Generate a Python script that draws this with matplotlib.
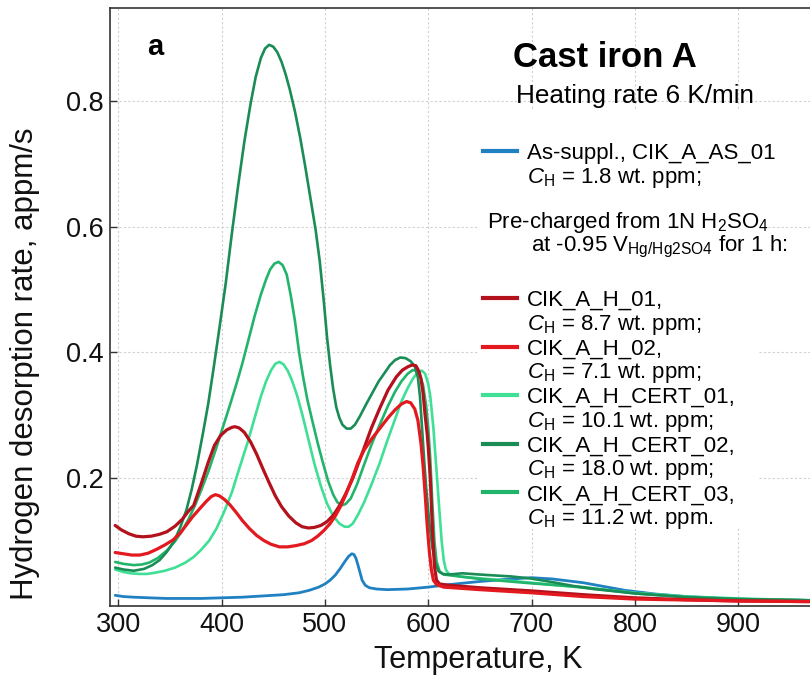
import matplotlib
matplotlib.use("Agg")
import matplotlib.pyplot as plt
from matplotlib.patches import Rectangle
from matplotlib.lines import Line2D

plt.rcParams['font.family'] = ['Liberation Sans', 'DejaVu Sans']
plt.rcParams['mathtext.fontset'] = 'custom'
plt.rcParams['mathtext.rm'] = 'Liberation Sans'
plt.rcParams['mathtext.it'] = 'Liberation Sans:italic'
plt.rcParams['mathtext.bf'] = 'Liberation Sans:bold'

# ---------------- data ----------------
T_as = [297, 305, 315, 330, 347, 365, 380, 400, 420, 440, 460, 475, 485, 494, 500, 505, 510,
        515, 519, 523, 526, 528, 530, 532, 534, 536, 539, 543, 550, 560, 580, 600, 620, 650,
        680, 700, 720, 750, 770, 790, 820, 850, 900, 969]
v_as = [0.014, 0.012, 0.011, 0.010, 0.009, 0.009, 0.009, 0.010, 0.011, 0.013, 0.015, 0.018,
        0.022, 0.027, 0.032, 0.038, 0.046, 0.057, 0.067, 0.076, 0.080, 0.079, 0.073, 0.062,
        0.050, 0.038, 0.030, 0.026, 0.024, 0.023, 0.024, 0.027, 0.031, 0.036, 0.040, 0.042,
        0.040, 0.034, 0.028, 0.022, 0.016, 0.012, 0.008, 0.006]

T_h01 = [297, 303, 310, 317, 324, 332, 340, 347, 355, 362, 368, 373, 380, 387, 393, 399, 405,
         410, 413, 417, 422, 428, 434, 440, 446, 452, 458, 465, 472, 478, 484, 490, 496, 502,
         508, 514, 520, 527, 535, 545, 553, 561, 569, 575, 580, 584, 588, 591, 593, 595, 597,
         599, 600, 602, 604, 606, 608, 611, 620, 650, 700, 750, 800, 850, 900, 969]
v_h01 = [0.125, 0.118, 0.112, 0.108, 0.107, 0.108, 0.111, 0.115, 0.124, 0.135, 0.148, 0.157,
         0.190, 0.225, 0.252, 0.268, 0.277, 0.281, 0.282, 0.280, 0.273, 0.258, 0.238, 0.215,
         0.193, 0.172, 0.155, 0.140, 0.129, 0.123, 0.121, 0.122, 0.125, 0.131, 0.141, 0.156,
         0.175, 0.200, 0.235, 0.280, 0.311, 0.340, 0.361, 0.372, 0.377, 0.380, 0.379, 0.370,
         0.358, 0.335, 0.300, 0.270, 0.250, 0.200, 0.120, 0.060, 0.038, 0.032, 0.030, 0.026,
         0.021, 0.015, 0.010, 0.007, 0.005, 0.004]

T_h02 = [297, 305, 313, 321, 329, 337, 345, 353, 360, 366, 372, 379, 385, 390, 394, 398, 403,
         408, 414, 420, 427, 434, 441, 448, 456, 464, 472, 480, 487, 493, 499, 505, 510, 515,
         520, 526, 532, 538, 545, 553, 561, 568, 574, 579, 583, 587, 590, 593, 595, 597, 599,
         601, 603, 605, 608, 615, 650, 700, 750, 800, 900, 969]
v_h02 = [0.082, 0.080, 0.078, 0.078, 0.081, 0.087, 0.094, 0.102, 0.113, 0.126, 0.139, 0.152,
         0.163, 0.171, 0.174, 0.172, 0.166, 0.158, 0.146, 0.133, 0.120, 0.109, 0.101, 0.095,
         0.091, 0.091, 0.093, 0.096, 0.101, 0.108, 0.117, 0.128, 0.140, 0.155, 0.173, 0.198,
         0.225, 0.245, 0.262, 0.279, 0.296, 0.309, 0.318, 0.322, 0.320, 0.310, 0.292, 0.255,
         0.220, 0.175, 0.125, 0.085, 0.055, 0.038, 0.031, 0.027, 0.023, 0.018, 0.012, 0.008,
         0.005, 0.004]

T_c01 = [297, 305, 312, 320, 328, 336, 345, 355, 365, 373, 380, 388, 395, 402, 410, 417, 425,
         432, 438, 443, 448, 452, 456, 460, 464, 468, 473, 478, 484, 490, 496, 502, 508, 514,
         519, 523, 527, 532, 538, 545, 553, 560, 567, 574, 580, 585, 590, 594, 597, 600, 602,
         605, 607, 609, 611, 613, 615, 617, 620, 630, 650, 680, 700, 750, 800, 850, 900, 969]
v_c01 = [0.055, 0.051, 0.049, 0.048, 0.048, 0.050, 0.053, 0.058, 0.066, 0.075, 0.086, 0.101,
         0.120, 0.145, 0.178, 0.215, 0.256, 0.296, 0.330, 0.354, 0.372, 0.382, 0.385, 0.381,
         0.371, 0.356, 0.332, 0.302, 0.262, 0.222, 0.188, 0.160, 0.140, 0.128, 0.123, 0.123,
         0.128, 0.142, 0.162, 0.190, 0.224, 0.258, 0.290, 0.322, 0.343, 0.358, 0.369, 0.371,
         0.366, 0.350, 0.330, 0.280, 0.235, 0.190, 0.144, 0.100, 0.070, 0.055, 0.048, 0.044,
         0.041, 0.037, 0.034, 0.026, 0.018, 0.012, 0.009, 0.006]

T_c02 = [297, 305, 315, 325, 333, 340, 347, 354, 360, 366, 371, 376, 382, 387, 392, 398, 404,
         410, 416, 422, 428, 433, 438, 442, 446, 450, 454, 458, 462, 466, 471, 476, 481, 486,
         491, 495, 499, 502, 505, 508, 511, 514, 517, 521, 525, 529, 534, 540, 546, 552, 558,
         563, 568, 573, 578, 583, 587, 590, 592, 594, 596, 598, 601, 604, 607, 610, 614, 620,
         633, 650, 680, 698, 720, 740, 760, 800, 850, 900, 969]
v_c02 = [0.058, 0.055, 0.053, 0.056, 0.062, 0.070, 0.083, 0.100, 0.122, 0.150, 0.182, 0.220,
         0.272, 0.318, 0.372, 0.440, 0.510, 0.590, 0.665, 0.735, 0.795, 0.838, 0.868, 0.883,
         0.889, 0.886, 0.877, 0.862, 0.842, 0.818, 0.783, 0.742, 0.695, 0.645, 0.595, 0.545,
         0.480, 0.425, 0.380, 0.342, 0.313, 0.296, 0.285, 0.279, 0.279, 0.285, 0.299, 0.318,
         0.336, 0.354, 0.368, 0.380, 0.388, 0.392, 0.391, 0.386, 0.378, 0.360, 0.330, 0.280,
         0.230, 0.185, 0.130, 0.090, 0.065, 0.052, 0.048, 0.047, 0.049, 0.047, 0.044, 0.041,
         0.035, 0.029, 0.024, 0.017, 0.011, 0.008, 0.006]

T_c03 = [297, 305, 315, 323, 330, 338, 347, 355, 362, 368, 374, 380, 387, 394, 401, 408, 414,
         420, 426, 432, 438, 443, 447, 451, 455, 459, 463, 467, 471, 475, 479, 483, 488, 493,
         498, 503, 508, 512, 516, 520, 525, 531, 538, 545, 553, 561, 568, 574, 580, 585, 589,
         592, 595, 598, 600, 602, 604, 606, 608, 611, 615, 630, 650, 700, 750, 800, 850, 900, 969]
v_c03 = [0.067, 0.064, 0.062, 0.063, 0.066, 0.073, 0.085, 0.100, 0.117, 0.135, 0.156, 0.180,
         0.210, 0.244, 0.280, 0.316, 0.348, 0.382, 0.420, 0.458, 0.492, 0.516, 0.532, 0.541,
         0.544, 0.539, 0.524, 0.490, 0.450, 0.400, 0.360, 0.325, 0.290, 0.256, 0.225, 0.196,
         0.174, 0.162, 0.157, 0.159, 0.168, 0.190, 0.222, 0.253, 0.285, 0.315, 0.338, 0.354,
         0.366, 0.372, 0.371, 0.364, 0.348, 0.315, 0.280, 0.230, 0.160, 0.100, 0.068, 0.052,
         0.047, 0.044, 0.040, 0.033, 0.027, 0.017, 0.011, 0.008, 0.006]

names = ["As-suppl., CIK_A_AS_01", "CIK_A_H_01,", "CIK_A_H_02,",
         "CIK_A_H_CERT_01,", "CIK_A_H_CERT_02,", "CIK_A_H_CERT_03,"]
conc = ["1.8", "8.7", "7.1", "10.1", "18.0", "11.2"]
ends = [";", ";", ";", ";", ";", "."]
colors = ["#1f80c2", "#b3121c", "#e3191f", "#3fe095", "#1a8c56", "#22b46b"]
widths = [2.0, 2.3, 2.3, 1.9, 1.9, 1.9]

x_ticks = [300, 400, 500, 600, 700, 800, 900]
y_ticks = [0.2, 0.4, 0.6, 0.8]

# ---------------- figure ----------------
fig = plt.figure(figsize=(8.1, 6.81), dpi=100)
ax = fig.add_axes([109.5 / 810, 1 - 606 / 681, 1 - 109.5 / 810, (606 - 7.7) / 681])

series = [(T_as, v_as), (T_h01, v_h01), (T_h02, v_h02), (T_c01, v_c01), (T_c02, v_c02), (T_c03, v_c03)]
order = [0, 3, 5, 4, 1, 2]
for i in order:
    T, v = series[i]
    ax.plot(T, v, color=colors[i], lw=widths[i], zorder=3, solid_joinstyle='round',
            solid_capstyle='round')

ax.set_xlim(291.5, 969.5)
ax.set_ylim(-0.003, 0.948)
ax.set_xticks(x_ticks)
ax.set_yticks(y_ticks)
ax.set_xticklabels([str(t) for t in x_ticks])
ax.set_yticklabels([f"{t:.1f}" for t in y_ticks])
ax.tick_params(direction='in', length=5, width=1, colors='#333333', labelsize=19.5,
               labelcolor='#111111', pad=4)
ax.tick_params(axis='y', pad=4)
ax.set_axisbelow(True)
ax.grid(True, linestyle=(0, (2, 2)), color='#d0d0d0', lw=0.8)
for s in ['left', 'bottom', 'top']:
    ax.spines[s].set_color('#333333')
    ax.spines[s].set_linewidth(1.2)
ax.spines['right'].set_visible(False)

ax.set_xlabel("Temperature, K", fontsize=22, color='#111111')
ax.xaxis.label.set_va('center')
ax.xaxis.set_label_coords(0.526, -0.090)
ax.set_ylabel("Hydrogen desorption rate, appm/s", fontsize=22.5, color='#111111')
ax.yaxis.label.set_va('center')
ax.yaxis.set_label_coords(-0.121, 0.4045)

# white background for the legend block
ax.add_patch(Rectangle((0.526, 0.13), 0.40, 0.70, transform=ax.transAxes,
                       facecolor='white', edgecolor='none', zorder=1))

def ax_x(px):
    return (px - 109.5) / 700.5

def ax_y(py):
    return 1 - (py - 7.7) / 598.3

tr = ax.transAxes
ax.text(ax_x(155), ax_y(47), "a", fontsize=21, fontweight='bold', ha='center', va='center', transform=tr)
ax.text(ax_x(513), ax_y(57), "Cast iron A", fontsize=25, fontweight='bold', ha='left', va='center',
        transform=tr)
ax.text(ax_x(516), ax_y(96), "Heating rate 6 K/min", fontsize=18.8, ha='left', va='center', transform=tr)
ax.text(ax_x(487), ax_y(222), r"Pre-charged from 1N H$_2$SO$_4$", fontsize=16, ha='left', va='center',
        zorder=4, transform=tr)
ax.text(ax_x(531), ax_y(247), r"at -0.95 V$_{\mathrm{Hg/Hg2SO4}}$ for 1 h:", fontsize=16, ha='left',
        va='center', zorder=4, transform=tr)

blank = Line2D([], [], color='none')

def make_legend(idx_list, top_px):
    handles, labels = [], []
    for i in idx_list:
        handles.append(Line2D([], [], color=colors[i], lw=3))
        labels.append(names[i])
        handles.append(blank)
        labels.append(r"$C_\mathrm{H}$ = " + conc[i] + " wt. ppm" + ends[i])
    leg = ax.legend(handles, labels, loc='upper left', bbox_to_anchor=(ax_x(483.3), ax_y(top_px)),
                    frameon=False, fontsize=16, handlelength=1.5, handletextpad=0.45,
                    labelspacing=0.08, borderpad=0, borderaxespad=0)
    leg.set_zorder(5)
    return leg

leg1 = make_legend([0], 143)
ax.add_artist(leg1)
leg2 = make_legend([1, 2, 3, 4, 5], 290)

fig.savefig("out.png", dpi=100, facecolor='white')
